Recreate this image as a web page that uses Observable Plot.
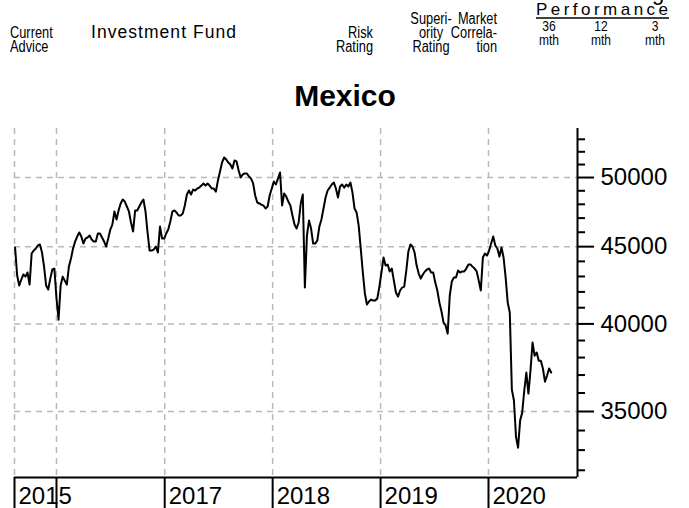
<!DOCTYPE html>
<html><head><meta charset="utf-8">
<script src="https://cdn.jsdelivr.net/npm/d3@7"></script>
<script src="https://cdn.jsdelivr.net/npm/@observablehq/plot@0.6"></script>
<style>
html,body{margin:0;padding:0;background:#fff;}
#wrap{position:relative;width:689px;height:508px;overflow:hidden;font-family:"Liberation Sans",Arial,sans-serif;background:#fff;}
#head{position:absolute;left:0;top:0;}
#chart{position:absolute;left:0;top:115px;}
</style></head><body>
<div id="wrap"><svg id="head" width="689" height="115"></svg><div id="chart"></div></div>
<script>
// weekly closing values, first observation date
const startDate = "2015-08-14";
const values = [
44940,43060,42410,42800,43130,42990,43260,42470,44530,44730,
44870,45080,45150,44600,43650,42410,42150,42860,43460,43520,
41580,40260,42410,42990,42730,42470,43650,44190,44870,45350,
45700,45980,45700,45210,45560,45630,45770,45490,45350,45350,
45910,45910,45630,45350,45010,45560,46190,46540,47480,46900,
47550,48060,48350,48200,47840,47480,46690,46050,47550,47550,
47840,48130,48350,47480,45980,44730,44730,44800,45010,44600,
46400,45560,45560,45910,46190,46760,47480,47550,47400,47190,
47190,47330,47910,48720,49020,48720,49090,49020,49170,49240,
49390,49550,49390,49550,49390,49170,49170,48940,49770,50460,
51160,51550,51390,51160,51000,50690,51320,51240,50540,50000,
50230,50310,50310,50080,49920,49550,48650,48130,48060,47980,
47910,47690,47840,48650,49170,49700,49470,49920,50380,47910,
48800,48570,48200,47910,47190,46540,46260,46690,48060,48720,
42280,45770,46830,46260,45210,45210,45420,46400,46900,47690,
48500,49020,49240,49470,49620,49170,48500,49320,49470,49240,
49470,49320,49620,48870,47690,47400,46470,44870,43260,41890,
41200,41390,41510,41450,41450,41580,42340,43260,44260,43720,
43790,43330,43520,42730,41960,41700,42090,42280,42340,43390,
44670,45150,45010,44600,43720,43190,42860,43130,43330,43460,
43520,43260,43260,42600,42090,41320,40760,40080,39900,39410,
41770,42670,42930,42930,43390,43260,43330,43330,43520,43790,
43790,43650,43520,43330,42730,42090,44260,44530,44390,44730,
45210,45700,45080,44870,44320,44940,44260,42930,41320,40700,
36190,35590,33680,33120,34520,34940,36140,37140,35970,37250,
38880,38110,38290,37820,37820,37370,36630,36970,37370,37140
];
const yMajor = [35000, 40000, 45000, 50000];
const yMinor = [32000,33000,34000,36000,37000,38000,39000,41000,42000,43000,44000,46000,47000,48000,49000,51000,52000,53000];
const xTickDates = ["2015-08-12","2016-01-01","2017-01-01","2018-01-01","2019-01-01","2020-01-01"];
const xTickLabels = ["2015","","2017","2018","2019","2020"];
const xDomainDates = ["2015-08-12","2020-10-28"];
const yDomainValues = [31650, 53880];
const title = "Mexico";

const data = values.map((v, i) => ({date: d3.utcDay.offset(new Date(startDate), 7 * i), value: v}));
const tickDates = xTickDates.map(d => new Date(d));
const labelData = tickDates.map((d, i) => ({date: d, label: xTickLabels[i]})).filter(d => d.label);
const xDomain = xDomainDates.map(d => new Date(d));

const grid = {stroke: "#b9b9b9", strokeOpacity: 1, strokeWidth: 1.5, strokeDasharray: "6,5"};
const chart = Plot.plot({
  width: 689, height: 393,
  marginLeft: 14, marginRight: 112, marginTop: 13, marginBottom: 31,
  style: {fontFamily: '"Liberation Sans", Arial, sans-serif', background: "white", overflow: "visible"},
  x: {type: "utc", domain: xDomain, label: null},
  y: {type: "log", domain: yDomainValues, label: null},
  marks: [
    Plot.gridX(tickDates, grid),
    Plot.gridY(yMajor, grid),
    Plot.line(data, {x: "date", y: "value", stroke: "#000", strokeWidth: 2}),
    Plot.ruleX([xDomain[1]], {stroke: "#000", strokeWidth: 2}),
    Plot.ruleY([yDomainValues[0]], {stroke: "#000", strokeWidth: 2}),
    Plot.axisY(yMinor, {anchor: "right", tickSize: 7, fill: "none", stroke: "#000", strokeWidth: 2, label: null}),
    Plot.axisY(yMajor, {anchor: "right", tickSize: 16, tickPadding: 7, tickFormat: d => String(d), fontSize: 24, fill: "#000", stroke: "#000", strokeWidth: 2, label: null}),
    Plot.axisX(tickDates, {anchor: "bottom", tickSize: 31, fill: "none", stroke: "#000", strokeWidth: 2, label: null}),
    Plot.text(labelData, {x: "date", text: "label", frameAnchor: "bottom", textAnchor: "start", lineAnchor: "bottom", dx: 4, dy: 26, fontSize: 24, fill: "#000"})
  ]
});
document.getElementById("chart").appendChild(chart);

// header
const head = d3.select("#head");
const sans = '"Liberation Sans", Arial, sans-serif';
const headerItems = [
  {t: "Current", x: 10, y: 38, a: "start", s: 16},
  {t: "Advice", x: 10, y: 52, a: "start", s: 16},
  {t: "Risk", x: 373, y: 38, a: "end", s: 16},
  {t: "Rating", x: 373, y: 52, a: "end", s: 16},
  {t: "Superi-", x: 431, y: 24, a: "middle", s: 16},
  {t: "ority", x: 431, y: 38, a: "middle", s: 16},
  {t: "Rating", x: 431, y: 52, a: "middle", s: 16},
  {t: "Market", x: 497, y: 24, a: "end", s: 16},
  {t: "Correla-", x: 497, y: 38, a: "end", s: 16},
  {t: "tion", x: 497, y: 52, a: "end", s: 16},
  {t: "36", x: 549, y: 31, a: "middle", s: 15},
  {t: "12", x: 601, y: 31, a: "middle", s: 15},
  {t: "3", x: 655, y: 31, a: "middle", s: 15},
  {t: "mth", x: 549, y: 45, a: "middle", s: 15},
  {t: "mth", x: 601, y: 45, a: "middle", s: 15},
  {t: "mth", x: 655, y: 45, a: "middle", s: 15}
];
head.selectAll("text.h").data(headerItems).join("text")
  .attr("class", "h")
  .attr("x", d => d.x).attr("y", d => d.y).attr("text-anchor", d => d.a)
  .style("font-family", sans).style("font-size", d => d.s + "px").text(d => d.t)
  .each(function() {
    const w = this.getComputedTextLength();
    this.setAttribute("textLength", (w * 0.8).toFixed(1));
    this.setAttribute("lengthAdjust", "spacingAndGlyphs");
  });
head.append("text").attr("x", 91).attr("y", 38).style("font-family", sans)
  .style("font-size", "17.5px").attr("textLength", 145).attr("lengthAdjust", "spacing").text("Investment Fund");
head.append("text").attr("x", 536).attr("y", 15).style("font-family", sans)
  .style("font-size", "17px").attr("textLength", 132).attr("lengthAdjust", "spacing").text("Performance");
head.append("line").attr("x1", 536).attr("x2", 669).attr("y1", 18).attr("y2", 18).attr("stroke", "#000").attr("stroke-width", 1.3);
head.append("text").attr("x", 658).attr("y", 0).attr("text-anchor", "middle").style("font-family", sans)
  .style("font-size", "22px").text("g");
head.append("text").attr("x", 345).attr("y", 106).attr("text-anchor", "middle").style("font-family", sans)
  .style("font-size", "30px").style("font-weight", "bold").text(title);
</script>
</body></html>
